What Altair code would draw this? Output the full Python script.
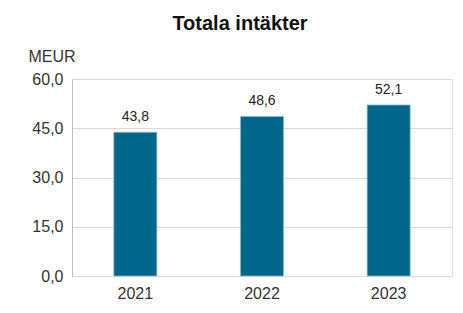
import altair as alt
import pandas as pd

years = ["2021", "2022", "2023"]
values = [43.8, 48.6, 52.1]
y_ticks = [0, 15, 30, 45, 60]

df = pd.DataFrame({"year": years, "value": values})

FONT = "Liberation Sans"
BAR = "#00668A"

base = alt.Chart(df).encode(
    x=alt.X(
        "year:N",
        sort=years,
        scale=alt.Scale(paddingInner=0.66, paddingOuter=0.33),
        axis=alt.Axis(
            title=None, labelAngle=0, labelFont=FONT, labelFontSize=16,
            labelColor="#333333", labelPadding=9, ticks=False,
            domainColor="#d9d9d9", grid=False,
        ),
    ),
    y=alt.Y(
        "value:Q",
        scale=alt.Scale(domain=[0, 60], nice=False),
        axis=alt.Axis(
            title="MEUR", titleAngle=0, titleAlign="left",
            titleBaseline="alphabetic", titleX=-44, titleY=-18,
            titleFont=FONT, titleFontSize=16, titleFontWeight="normal",
            titleColor="#333333",
            values=y_ticks,
            labelExpr="replace(format(datum.value, '.1f'), '.', ',')",
            labelFont=FONT, labelFontSize=16, labelColor="#333333",
            labelPadding=9, ticks=False,
            domainColor="#bfbfbf", gridColor="#d9d9d9",
        ),
    ),
)

bars = base.mark_bar(color=BAR, stroke="#8fbfd1", strokeWidth=0.8)

labels = base.transform_calculate(
    lbl="replace(format(datum.value, '.1f'), '.', ',')"
).mark_text(
    font=FONT, fontSize=14, color="#222222", baseline="alphabetic", dy=-11
).encode(text="lbl:N")

chart = (
    alt.layer(bars, labels)
    .properties(
        width=380,
        height=197,
        autosize=alt.AutoSizeParams(type="none"),
        padding={"left": 64, "top": 71, "right": 3, "bottom": 27},
        title=alt.TitleParams(
            "Totala intäkter", font=FONT, fontSize=20, fontWeight="bold",
            color="#111111", anchor="middle", dx=-22, offset=14,
        ),
    )
    .configure_view(stroke=None)
    .configure(background="white")
)

chart.save("out.html", embed_options={"renderer": "svg", "actions": False})
